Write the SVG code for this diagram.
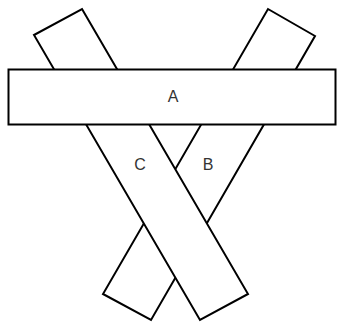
<svg xmlns="http://www.w3.org/2000/svg" width="337" height="322" viewBox="0 0 337 322">
<style>
.s{fill:#fff;stroke:#000;stroke-width:2;stroke-linejoin:miter}
.t{font-family:"Liberation Sans",Arial,Helvetica,sans-serif;font-size:16px;fill:#333;text-anchor:middle}
</style>
<rect width="337" height="322" fill="#fff"/>
<g id="B">
<polygon class="s" points="268,9 315,36 151,320 103,294"/>
<text class="t" x="208" y="170">B</text>
</g>
<g id="C">
<polygon class="s" points="82,9 248,294 200,320 34,35"/>
<text class="t" x="140" y="170">C</text>
</g>
<g id="A">
<rect class="s" x="8.5" y="69.5" width="327" height="55"/>
<text class="t" x="173" y="102">A</text>
</g>
<g id="connectors"/>
</svg>
